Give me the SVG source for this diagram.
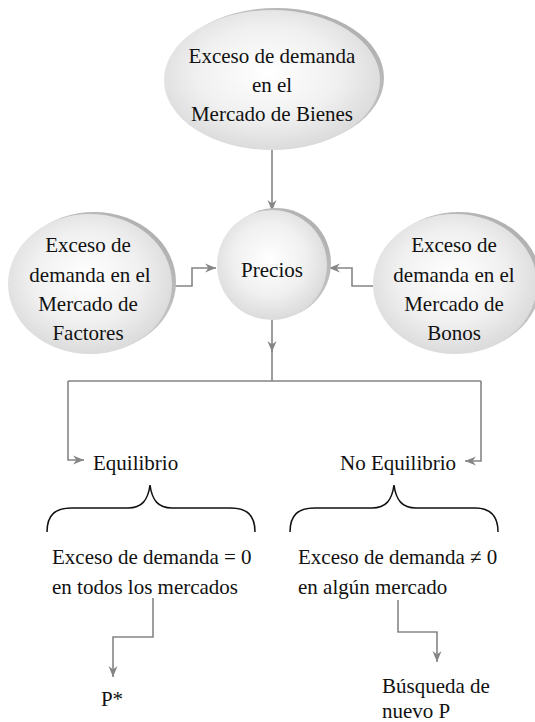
<svg xmlns="http://www.w3.org/2000/svg" width="535" height="722" viewBox="0 0 535 722">
<style>
text{font-family:"Liberation Serif",Tinos,"DejaVu Serif",serif;font-size:21px;fill:#111}
.c{text-anchor:middle}
.ln{fill:none;stroke:#858585;stroke-width:1.6}
.br{fill:none;stroke:#111;stroke-width:1.5}
.sh{fill:url(#gs)}
.bd{fill:url(#gb)}
</style>
<defs>
<radialGradient id="gb" cx="0.48" cy="0.45" r="0.6">
<stop offset="0" stop-color="#ffffff"/>
<stop offset="0.55" stop-color="#f0f0f0"/>
<stop offset="1" stop-color="#d6d6d6"/>
</radialGradient>
<linearGradient id="gs" x1="0" y1="1" x2="1" y2="0">
<stop offset="0" stop-color="#e6e6e6"/>
<stop offset="1" stop-color="#a8a8a8"/>
</linearGradient>
<marker id="ar" markerUnits="userSpaceOnUse" markerWidth="12" markerHeight="10" refX="11" refY="5" orient="auto">
<path d="M0,0.5 L11,5 L0,9.5 L3.5,5 z" fill="#858585"/>
</marker>
</defs>

<g id="connectors">
<path class="ln" d="M272,150 V211" marker-end="url(#ar)"/>
<path class="ln" d="M172,286 H192 V268 H216" marker-end="url(#ar)"/>
<path class="ln" d="M373,286 H352 V268 H329" marker-end="url(#ar)"/>
<path class="ln" d="M272,320 V352" marker-end="url(#ar)"/>
<path class="ln" d="M272,350 V381"/>
<path class="ln" d="M68,381 H481"/>
<path class="ln" d="M68,381 V460 H84" marker-end="url(#ar)"/>
<path class="ln" d="M481,381 V461 H465" marker-end="url(#ar)"/>
<path class="ln" d="M153,598 V637 H113 V677" marker-end="url(#ar)"/>
<path class="ln" d="M398,600 V632 H437 V662" marker-end="url(#ar)"/>
</g>

<g id="bienes">
<ellipse class="sh" cx="276" cy="78" rx="108" ry="70"/>
<ellipse class="bd" cx="272" cy="80" rx="108" ry="70"/>
<text class="c" x="272" y="63" font-family="Liberation Serif, serif">Exceso de demanda</text>
<text class="c" x="272" y="92" font-family="Liberation Serif, serif">en el</text>
<text class="c" x="272" y="121" font-family="Liberation Serif, serif">Mercado de Bienes</text>
</g>

<g id="precios">
<circle class="sh" cx="276" cy="263" r="55"/>
<circle class="bd" cx="272" cy="265" r="55"/>
<text class="c" x="272" y="277">Precios</text>
</g>

<g id="factores">
<ellipse class="sh" cx="94" cy="282" rx="82" ry="70"/>
<ellipse class="bd" cx="90" cy="284" rx="82" ry="70"/>
<text class="c" x="88" y="252">Exceso de</text>
<text class="c" x="90" y="282">demanda en el</text>
<text class="c" x="88" y="311">Mercado de</text>
<text class="c" x="88" y="340">Factores</text>
</g>

<g id="bonos">
<ellipse class="sh" cx="459" cy="282" rx="82" ry="70"/>
<ellipse class="bd" cx="455" cy="284" rx="82" ry="70"/>
<text class="c" x="454" y="252">Exceso de</text>
<text class="c" x="454" y="282">demanda en el</text>
<text class="c" x="454" y="311">Mercado de</text>
<text class="c" x="454" y="340">Bonos</text>
</g>

<g id="equilibrio">
<text x="93" y="470">Equilibrio</text>
<path class="br" d="M47,532 C47,515 55,508 72,508 L128,508 C142,508 148,500 150,485 C152,500 158,508 172,508 L230,508 C247,508 255,515 255,532"/>
<text x="52" y="564">Exceso de demanda = 0</text>
<text x="52" y="594">en todos los mercados</text>
</g>

<g id="noequilibrio">
<text x="340" y="470">No Equilibrio</text>
<path class="br" d="M290,532 C290,515 298,508 315,508 L372,508 C386,508 392,500 394,485 C396,500 402,508 416,508 L475,508 C490,508 498,515 498,532"/>
<text x="298" y="564">Exceso de demanda ≠ 0</text>
<text x="298" y="594">en algún mercado</text>
</g>

<g id="pstar">
<text class="c" x="112" y="706">P*</text>
</g>

<g id="busqueda">
<text x="382" y="693">Búsqueda de</text>
<text x="382" y="718">nuevo P</text>
</g>
</svg>
